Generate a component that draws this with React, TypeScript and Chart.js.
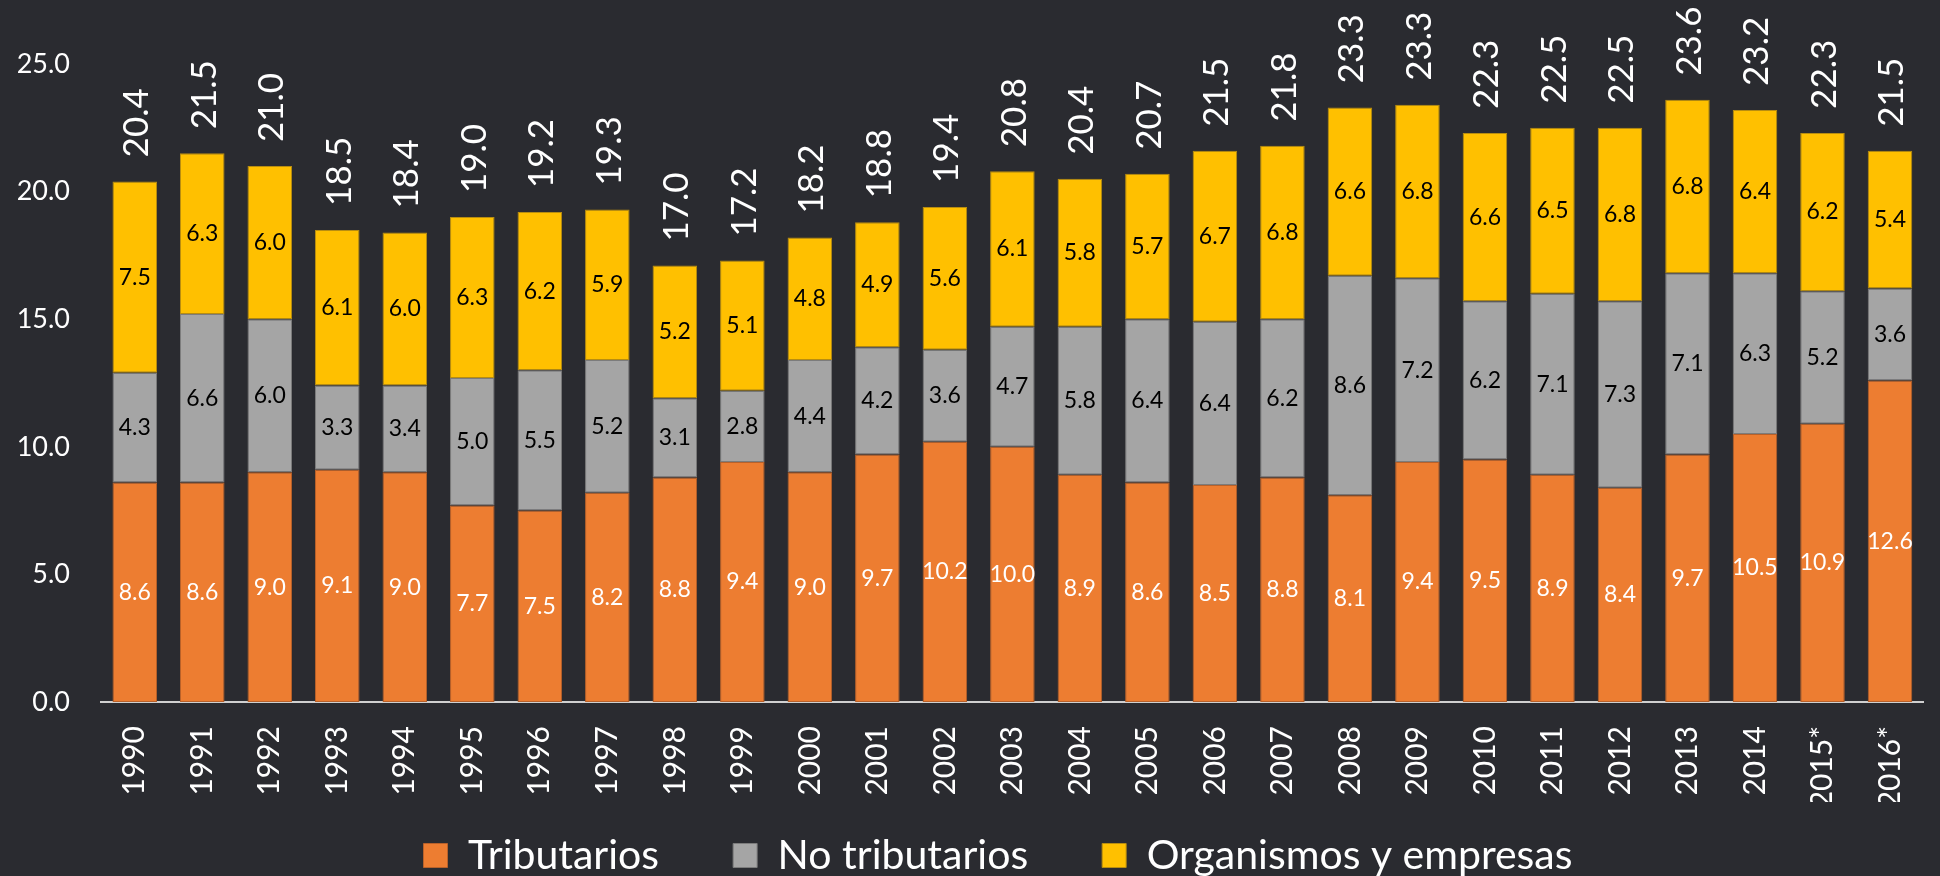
import React, { useEffect, useRef } from "react";
import { Chart, registerables } from "chart.js";

Chart.register(...registerables);

const years = [
  "1990", "1991", "1992", "1993", "1994", "1995", "1996", "1997", "1998", "1999",
  "2000", "2001", "2002", "2003", "2004", "2005", "2006", "2007", "2008", "2009",
  "2010", "2011", "2012", "2013", "2014", "2015*", "2016*",
];

const tributarios = [
  8.6, 8.6, 9.0, 9.1, 9.0, 7.7, 7.5, 8.2, 8.8, 9.4,
  9.0, 9.7, 10.2, 10.0, 8.9, 8.6, 8.5, 8.8, 8.1, 9.4,
  9.5, 8.9, 8.4, 9.7, 10.5, 10.9, 12.6,
];

const noTributarios = [
  4.3, 6.6, 6.0, 3.3, 3.4, 5.0, 5.5, 5.2, 3.1, 2.8,
  4.4, 4.2, 3.6, 4.7, 5.8, 6.4, 6.4, 6.2, 8.6, 7.2,
  6.2, 7.1, 7.3, 7.1, 6.3, 5.2, 3.6,
];

const organismos = [
  7.5, 6.3, 6.0, 6.1, 6.0, 6.3, 6.2, 5.9, 5.2, 5.1,
  4.8, 4.9, 5.6, 6.1, 5.8, 5.7, 6.7, 6.8, 6.6, 6.8,
  6.6, 6.5, 6.8, 6.8, 6.4, 6.2, 5.4,
];

const totals = [
  20.4, 21.5, 21.0, 18.5, 18.4, 19.0, 19.2, 19.3, 17.0, 17.2,
  18.2, 18.8, 19.4, 20.8, 20.4, 20.7, 21.5, 21.8, 23.3, 23.3,
  22.3, 22.5, 22.5, 23.6, 23.2, 22.3, 21.5,
];

const seriesNames = ["Tributarios", "No tributarios", "Organismos y empresas"];

const FONT = "Lato";
const BG = "#2a2b30";

const valueLabels = {
  id: "valueLabels",
  afterDatasetsDraw(chart: any) {
    const ctx = chart.ctx;
    ctx.save();
    chart.data.datasets.forEach((ds: any, di: number) => {
      const meta = chart.getDatasetMeta(di);
      meta.data.forEach((el: any, i: number) => {
        const { x, y, base } = el.getProps(["x", "y", "base"], true);
        ctx.fillStyle = di === 0 ? "#ffffff" : "#000000";
        ctx.font = `23px ${FONT}`;
        ctx.textAlign = "center";
        ctx.textBaseline = "middle";
        ctx.fillText(Number(ds.data[i]).toFixed(1), x, (y + base) / 2);
      });
    });
    const topMeta = chart.getDatasetMeta(chart.data.datasets.length - 1);
    topMeta.data.forEach((el: any, i: number) => {
      const { x, y } = el.getProps(["x", "y"], true);
      ctx.save();
      ctx.translate(x + 2, y - 24);
      ctx.rotate(-Math.PI / 2);
      ctx.font = `35px ${FONT}`;
      ctx.fillStyle = "#ffffff";
      ctx.textAlign = "left";
      ctx.textBaseline = "middle";
      ctx.fillText(totals[i].toFixed(1), 0, 0);
      ctx.restore();
    });
    ctx.restore();
  },
};

// place the legend row where the reference has it
const legendPlacer = {
  id: "legendPlacer",
  afterLayout(chart: any) {
    const lg = chart.legend;
    if (!lg) return;
    const dx = 18;
    const dy = -41;
    lg.left += dx;
    lg.right += dx;
    lg.top += dy;
    lg.bottom += dy;
  },
};

export default function App() {
  const ref = useRef<HTMLCanvasElement | null>(null);

  useEffect(() => {
    if (!ref.current) return;
    const chart = new Chart(ref.current, {
      type: "bar",
      data: {
        labels: years,
        datasets: [
          {
            label: seriesNames[0],
            data: tributarios,
            backgroundColor: "#ED7D31",
            borderColor: "#b8612a",
            borderWidth: 1,
            borderSkipped: false,
          },
          {
            label: seriesNames[1],
            data: noTributarios,
            backgroundColor: "#A5A5A5",
            borderColor: "#7c7c7c",
            borderWidth: 1,
            borderSkipped: false,
          },
          {
            label: seriesNames[2],
            data: organismos,
            backgroundColor: "#FFC000",
            borderColor: "#b88d10",
            borderWidth: 1,
            borderSkipped: false,
          },
        ] as any,
      },
      options: {
        responsive: false,
        animation: false,
        devicePixelRatio: 1,
        layout: { padding: { top: 64, left: 10, right: 0, bottom: 0 } },
        datasets: {
          bar: { categoryPercentage: 1, barPercentage: 0.66 },
        } as any,
        scales: {
          x: {
            stacked: true,
            grid: { display: false, drawTicks: false },
            border: { display: true, color: "#d0d0d0", width: 2 },
            ticks: {
              color: "#ffffff",
              font: { family: FONT, size: 30 },
              minRotation: 90,
              maxRotation: 90,
              padding: 24,
              autoSkip: false,
            },
            afterFit: (s: any) => {
              s.height = 100;
            },
          },
          y: {
            stacked: true,
            min: 0,
            max: 25,
            grid: { display: false, drawTicks: false },
            border: { display: false },
            ticks: {
              stepSize: 5,
              color: "#ffffff",
              font: { family: FONT, size: 27 },
              padding: 31,
              callback: (v: any) => Number(v).toFixed(1),
            },
            afterFit: (s: any) => {
              s.width = 91;
            },
          },
        },
        plugins: {
          legend: {
            position: "bottom",
            labels: {
              color: "#ffffff",
              font: { family: FONT, size: 41 },
              boxWidth: 24,
              boxHeight: 24,
              padding: 74,
            },
          },
          tooltip: { enabled: false },
        },
      } as any,
      plugins: [valueLabels, legendPlacer],
    });
    (document as any).fonts?.ready?.then(() => chart.update());
    return () => chart.destroy();
  }, []);

  return (
    <div
      style={{
        position: "absolute",
        left: 0,
        top: 0,
        width: 1940,
        height: 876,
        overflow: "hidden",
        background: BG,
      }}
    >
      <canvas ref={ref} width={1950} height={927} style={{ display: "block" }} />
    </div>
  );
}
